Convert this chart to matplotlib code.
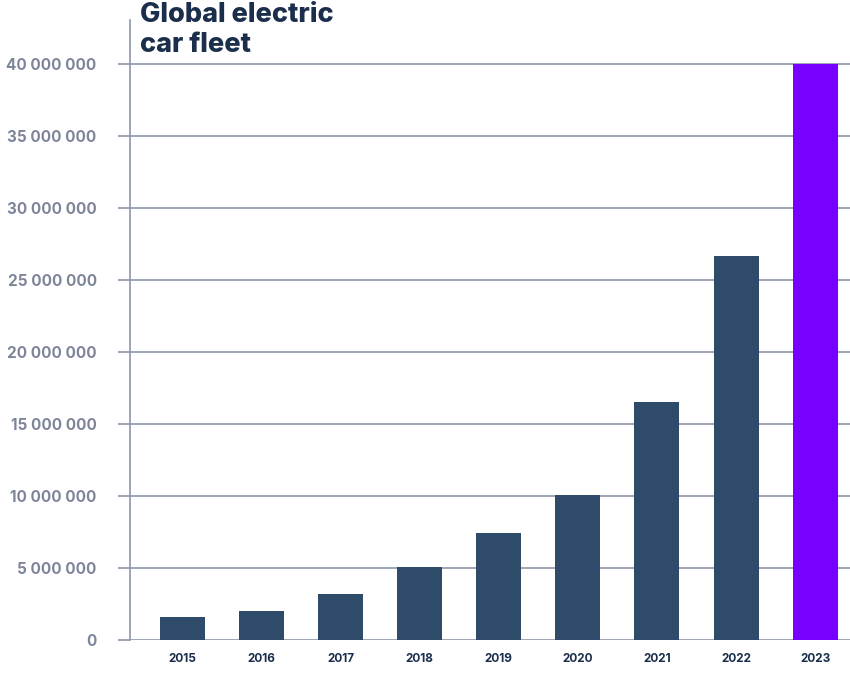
import matplotlib.pyplot as plt
from matplotlib.ticker import FuncFormatter

years = ["2015", "2016", "2017", "2018", "2019", "2020", "2021", "2022", "2023"]
fleet = [1.6e6, 2.0e6, 3.2e6, 5.1e6, 7.4e6, 10.1e6, 16.5e6, 26.7e6, 40.0e6]
bar_colors = ["#2f4b6a"] * 8 + ["#7700ff"]
yticks = [0, 5e6, 10e6, 15e6, 20e6, 25e6, 30e6, 35e6, 40e6]
title_lines = ["Global electric", "car fleet"]

grid_col = "#8e97aa"
plt.rcParams['font.family'] = ['Inter', 'DejaVu Sans']

fig = plt.figure(figsize=(8.5, 6.74), dpi=100)
ax = fig.add_axes([0.1529, 0.0504, 0.8471, 0.9199])

x = range(len(years))
ax.bar(x, fleet, width=0.57, color=bar_colors, zorder=3)

ax.set_xlim(-0.66, 8.44)
ax.set_ylim(0, 43.06e6)
ax.set_yticks(yticks)
ax.yaxis.set_major_formatter(FuncFormatter(lambda v, p: f"{int(v):,}".replace(",", " ")))
ax.grid(axis="y", color=grid_col, linewidth=1.2, zorder=0)
ax.set_xticks(list(x))
ax.set_xticklabels(years)

for s in ["top", "right", "bottom"]:
    ax.spines[s].set_visible(False)
ax.spines["left"].set_color(grid_col)
ax.spines["left"].set_linewidth(1.2)

ax.tick_params(axis="y", length=9, width=1.2, color=grid_col, pad=15,
               labelsize=11, labelcolor="#7d8598")
ax.tick_params(axis="x", length=0, pad=9, labelsize=8.5, labelcolor="#1b2e4b")
for lab in ax.get_yticklabels() + ax.get_xticklabels():
    lab.set_fontweight("bold")

# title, one line at a time so the baselines sit where the reference has them
for line, yb in zip(title_lines, [0.9674, 0.9228]):
    fig.text(0.165, yb, line, ha="left", va="baseline",
             fontsize=19.5, fontweight="heavy", color="#1b2e4b")

fig.savefig("out.png", dpi=100)
